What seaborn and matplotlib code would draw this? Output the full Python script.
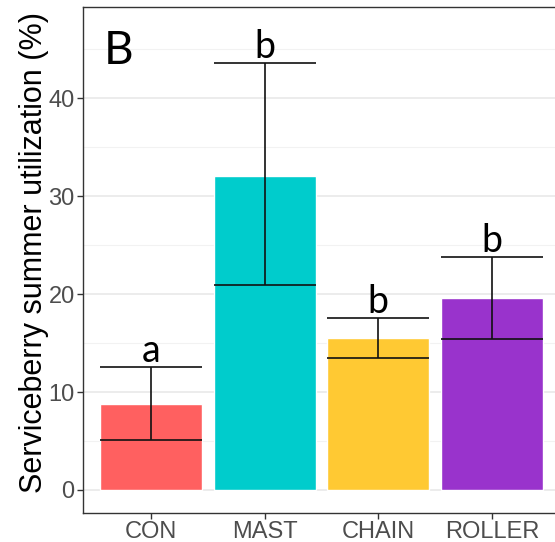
import numpy as np
import pandas as pd
import seaborn as sns
import matplotlib.pyplot as plt
from matplotlib.ticker import MultipleLocator

# values
treatments = ["CON", "MAST", "CHAIN", "ROLLER"]
means = [8.8, 32.1, 15.5, 19.6]
lower = [5.15, 20.9, 13.5, 15.4]
upper = [12.6, 43.6, 17.6, 23.8]
letters = ["a", "b", "b", "b"]
colors = ["#FF6060", "#00CCCC", "#FFC933", "#9933CC"]

df = pd.DataFrame({"treatment": treatments, "util": means})

sns.set_theme(style="white")
plt.rcParams["font.family"] = ["Liberation Sans", "DejaVu Sans"]

fig = plt.figure(figsize=(5.55, 5.42), dpi=100)
ax = fig.add_axes([83 / 555, 29 / 542, (560 - 83) / 555, (513 - 7) / 542])

# theme_bw style grid
ax.yaxis.set_major_locator(MultipleLocator(10))
ax.yaxis.set_minor_locator(MultipleLocator(5))
ax.grid(True, which="major", color="#EBEBEB", linewidth=1.3, zorder=0)
ax.grid(True, which="minor", axis="y", color="#F2F2F2", linewidth=0.8, zorder=0)
ax.set_axisbelow(True)

sns.barplot(data=df, x="treatment", y="util", hue="treatment", order=treatments,
            palette=colors, saturation=1, width=0.9, legend=False, ax=ax, zorder=2)

# error bars spanning the full bar width
xs = np.arange(len(treatments))
ax.vlines(xs, lower, upper, color="#111111", linewidth=1.2, zorder=3)
ax.hlines(lower, xs - 0.45, xs + 0.45, color="#111111", linewidth=1.2, zorder=3)
ax.hlines(upper, xs - 0.45, xs + 0.45, color="#111111", linewidth=1.2, zorder=3)

for x, u, lab in zip(xs, upper, letters):
    ax.text(x, u + 0.45, lab, ha="center", va="baseline", fontsize=27,
            family=["Lato", "DejaVu Sans"], color="black", zorder=4)

ax.text(-0.29, 43.5, "B", ha="center", va="baseline", fontsize=33,
        family=["Lato", "DejaVu Sans"], color="black")

ax.set_xlim(-0.6, 3.6)
ax.set_ylim(-2.35, 49.3)
ax.set_xlabel("")
ax.set_ylabel("Serviceberry summer utilization (%)", fontsize=22, color="black")
ax.yaxis.set_label_coords(-0.071, 0.514)
ax.tick_params(axis="both", which="major", length=4, width=1, color="#333333",
               labelsize=17, labelcolor="#4D4D4D", direction="out", pad=2,
               bottom=True, left=True)
ax.tick_params(axis="y", which="minor", length=0)
for s in ax.spines.values():
    s.set_color("#333333")
    s.set_linewidth(1)

fig.savefig("out.png", dpi=100)
